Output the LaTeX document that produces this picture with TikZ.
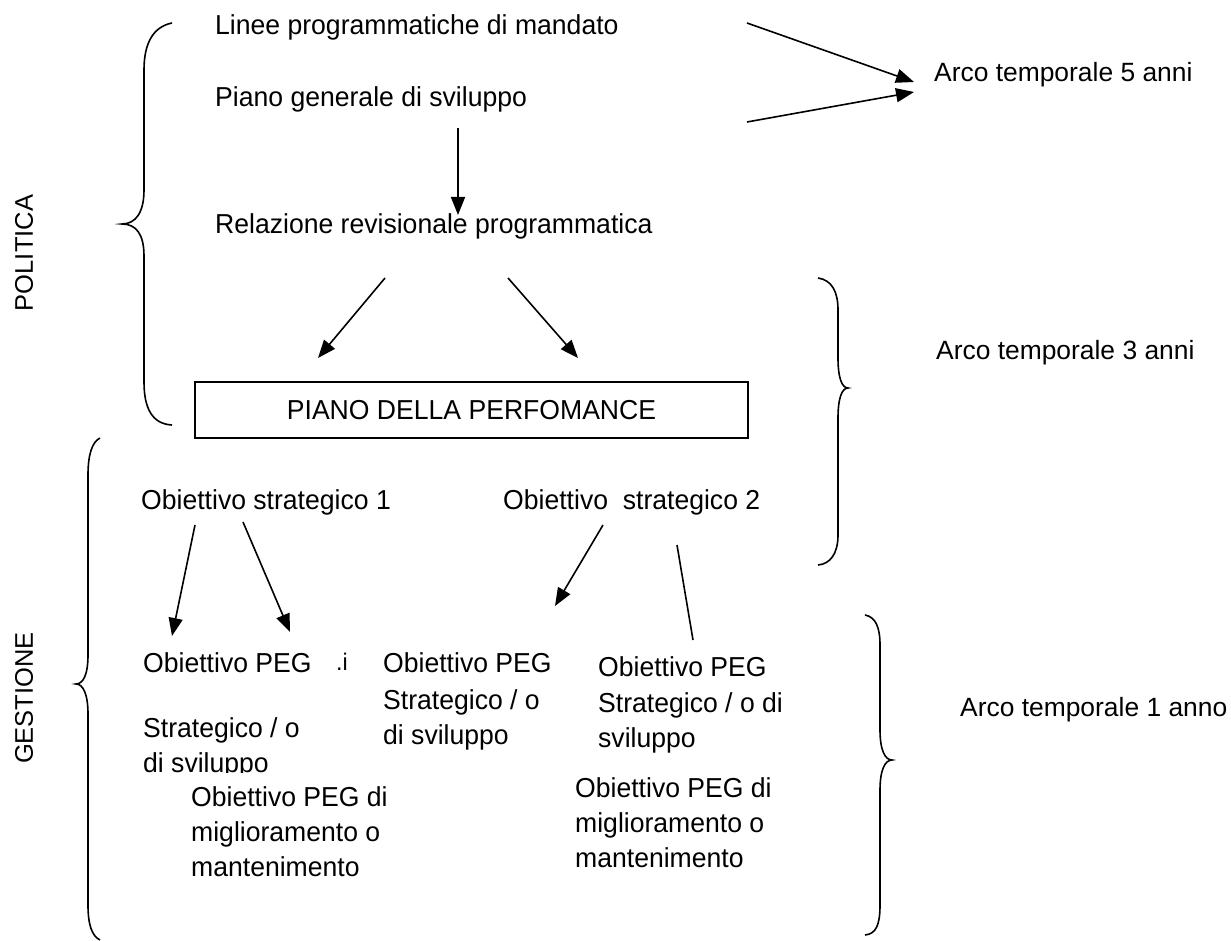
\documentclass[tikz,border=0pt]{standalone}
\usepackage{fontspec}
\setmainfont{Liberation Sans}
\newfontfamily\bodyf[FakeStretch=0.97]{Liberation Sans}
\usetikzlibrary{arrows.meta}
\begin{document}
\begin{tikzpicture}[x=1pt,y=-1pt,
  txt/.style={anchor=base west,inner sep=0pt,font=\bodyf\fontsize{27.4}{34}\selectfont},
  lbl/.style={anchor=base west,inner sep=0pt,font=\fontsize{26.4}{32}\selectfont},
  vlbl/.style={anchor=center,inner sep=0pt,rotate=90,font=\fontsize{25.5}{32}\selectfont},
  con/.style={line width=1.6pt},
  arr/.style={con,-{Triangle[length=18pt,width=14pt]}},
  bracestyle/.style={line width=1.6pt},
  boxstyle/.style={draw,line width=1.8pt,minimum width=553pt,minimum height=56pt,inner sep=0pt,font=\bodyf\fontsize{27.4}{34}\selectfont}
]
\fill[white] (0,0) rectangle (1231,941);
\useasboundingbox (0,0) rectangle (1231,941);

% upper texts
\node[txt] (l1) at (215,35) {Linee programmatiche di mandato};
\node[txt] (l2) at (215,107) {Piano generale di sviluppo};
\node[txt] (l3) at (215,234) {Relazione revisionale programmatica};
\node[boxstyle] (box) at (471.5,410) {PIANO DELLA PERFOMANCE};

\node[lbl] (a5) at (934,82) {Arco temporale 5 anni};
\node[lbl] (a3) at (936,359) {Arco temporale 3 anni};
\node[lbl] (a1) at (960,716) {Arco temporale 1 anno};

\node[vlbl] (pol) at (24,253) {POLITICA};
\node[vlbl] (ges) at (24,698) {GESTIONE};

% strategic objectives
\node[txt] (os1) at (141,509) {Obiettivo strategico 1};
\node[txt] (os2) at (503,509) {Obiettivo\ \ strategico 2};

% PEG objectives
\node[txt] (pegA) at (143,672) {Obiettivo PEG};
\node[txt,font=\bodyf\fontsize{24}{30}\selectfont] (dotI) at (336,670) {.i};
\node[txt] (pegAs) at (143,737) {Strategico / o};
\node[txt] (pegAd) at (143,772) {di sviluppo};
\fill[white] (186,773) rectangle (395,885);
\node[txt] (migA1) at (191,806) {Obiettivo PEG di};
\node[txt] (migA2) at (191,841) {miglioramento o};
\node[txt] (migA3) at (191,876) {mantenimento};

\node[txt] (pegB) at (383,672) {Obiettivo PEG};
\node[txt] (pegBs) at (383,709) {Strategico / o};
\node[txt] (pegBd) at (383,744) {di sviluppo};

\node[txt] (pegC) at (598,676) {Obiettivo PEG};
\node[txt] (pegCs) at (598,712) {Strategico / o di};
\node[txt] (pegCd) at (598,747) {sviluppo};

\node[txt] (migB1) at (575,797) {Obiettivo PEG di};
\node[txt] (migB2) at (575,832) {miglioramento o};
\node[txt] (migB3) at (575,867) {mantenimento};

% connector end points
\coordinate (c5a) at (747,23);  \coordinate (c5ae) at (914,82);
\coordinate (c5b) at (747,122); \coordinate (c5be) at (914,92);
\coordinate (cv) at (458,128);  \coordinate (cve) at (458,215);
\coordinate (cl) at (385,278);  \coordinate (cle) at (318,358);
\coordinate (cr) at (508,278);  \coordinate (cre) at (578,358);
\coordinate (s1a) at (195,525); \coordinate (s1ae) at (172,636);
\coordinate (s1b) at (243,522); \coordinate (s1be) at (290,632);
\coordinate (s2a) at (603,525); \coordinate (s2ae) at (555,606);
\coordinate (s2b) at (677,545); \coordinate (s2be) at (693,640);

\draw[arr] (c5a) -- (c5ae);
\draw[arr] (c5b) -- (c5be);
\draw[arr] (cv) -- (cve);
\draw[arr] (cl) -- (cle);
\draw[arr] (cr) -- (cre);
\draw[arr] (s1a) -- (s1ae);
\draw[arr] (s1b) -- (s1be);
\draw[arr] (s2a) -- (s2ae);
\draw[con] (s2b) -- (s2be);

% braces
\draw[bracestyle] (172,23) .. controls (152,27) and (144,45) .. (144,70) -- (144,190)
  .. controls (144,212) and (136,224) .. (122,224)
  .. controls (136,224) and (144,234) .. (144,256) -- (144,382)
  .. controls (144,408) and (152,424) .. (172,425);
\draw[bracestyle] (100,438) .. controls (92,442) and (88,455) .. (88,475) -- (88,655)
  .. controls (88,675) and (83,684) .. (76,684)
  .. controls (83,684) and (88,694) .. (88,714) -- (88,905)
  .. controls (88,925) and (92,936) .. (100,940);
\draw[bracestyle] (818,278) .. controls (832,280) and (838,292) .. (838,310) -- (838,358)
  .. controls (838,378) and (842,388) .. (848,388)
  .. controls (842,388) and (838,398) .. (838,418) -- (838,535)
  .. controls (838,554) and (830,564) .. (818,565);
\draw[bracestyle] (865,615) .. controls (876,617) and (880,628) .. (880,645) -- (880,730)
  .. controls (880,750) and (885,760) .. (892,760)
  .. controls (885,760) and (880,770) .. (880,790) -- (880,905)
  .. controls (880,925) and (876,934) .. (865,935);
\end{tikzpicture}
\end{document}
